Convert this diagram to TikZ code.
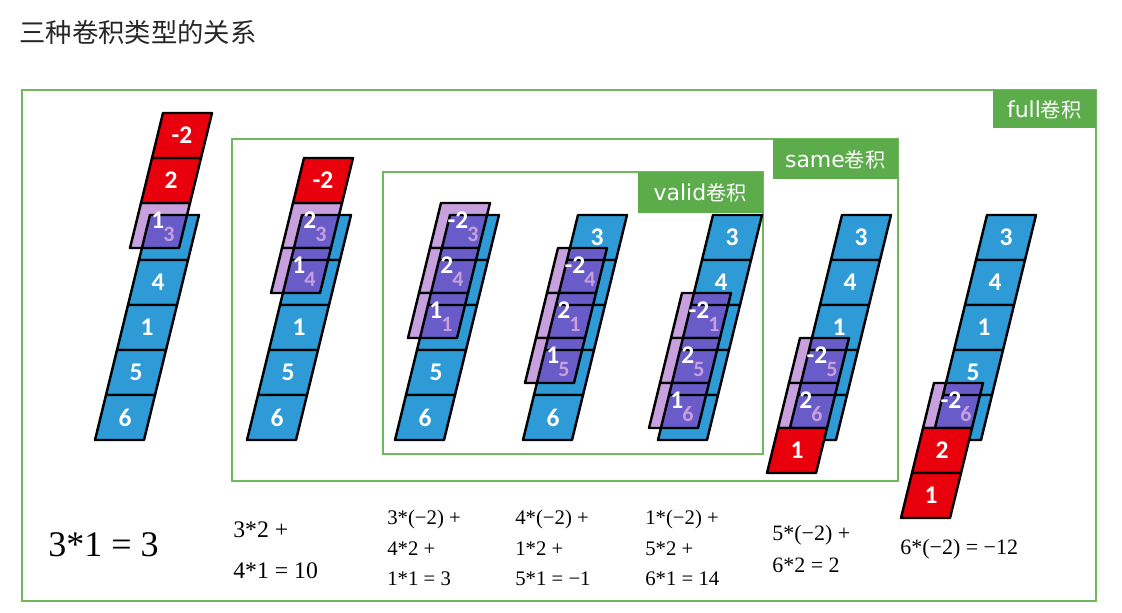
\documentclass[tikz,border=0pt]{standalone}
\usepackage{fontspec}
\setmainfont{Carlito}
\newfontfamily\cjk{Noto Sans CJK SC}
\newfontfamily\tabfont{DejaVu Sans}
\newfontfamily\formfont{Liberation Serif}
\usepackage{xcolor}
\usepackage{tikz}

\definecolor{cellblue}{RGB}{46,155,215}
\definecolor{cellred}{RGB}{232,0,12}
\definecolor{lav}{RGB}{200,160,222}
\definecolor{ovl}{RGB}{105,92,200}
\definecolor{boxgreen}{RGB}{112,184,92}
\definecolor{tabgreen}{RGB}{92,172,76}

% one slanted cell: name, lower left x, lower y, fill, number
\newcommand{\cell}[5]{%
  \filldraw[cellline, fill=#4] ({#2},{#3}) -- ++(49,0) -- ++(11,-45) -- ++(-49,0) -- cycle;
  \node[num] (#1) at ({#2+30},{#3-22.5}) {#5};}
% the five input cells of one column (numbers hidden by the kernel left empty)
\newcommand{\bluecol}[7]{%
  \cell{#1-a}{#2+44}{260}{cellblue}{#3}
  \cell{#1-b}{#2+33}{305}{cellblue}{#4}
  \cell{#1-c}{#2+22}{350}{cellblue}{#5}
  \cell{#1-d}{#2+11}{395}{cellblue}{#6}
  \cell{#1-e}{#2}{440}{cellblue}{#7}}
% outline of a column, drawn again through the kernel
\newcommand{\colgrid}[1]{%
  \draw[cellline] (#1,440) -- ++(49,0) -- ++(55,-225) -- ++(-49,0) -- cycle
    (#1+11,395) -- ++(49,0) (#1+22,350) -- ++(49,0)
    (#1+33,305) -- ++(49,0) (#1+44,260) -- ++(49,0);}
\newcommand{\sub}[1]{\kern-0.5pt\raisebox{-1.05ex}{\fontsize{12.5}{12.5}\selectfont\textcolor{lav}{#1}}}
% kernel cell over the input: name, column x, index, number, number below
\newcommand{\kcell}[5]{%
  \fill[lav] ({#2+11*(4-(#3))-9},{248+45*(#3)}) -- ++(49,0) -- ++(11,-45) -- ++(-49,0) -- cycle;
  \begin{scope}
    \clip (#2,440) -- ++(49,0) -- ++(55,-225) -- ++(-49,0) -- cycle;
    \fill[ovl] ({#2+11*(4-(#3))-9},{248+45*(#3)}) -- ++(49,0) -- ++(11,-45) -- ++(-49,0) -- cycle;
  \end{scope}
  \begin{scope}
    \clip ({#2+11*(4-(#3))-9},{248+45*(#3)}) -- ++(49,0) -- ++(11,-45) -- ++(-49,0) -- cycle;
    \colgrid{#2}
  \end{scope}
  \draw[cellline] ({#2+11*(4-(#3))-9},{248+45*(#3)}) -- ++(49,0) -- ++(11,-45) -- ++(-49,0) -- cycle;
  \node[num] (#1) at ({#2+11*(4-(#3))+24},{227+45*(#3)}) {#4\sub{#5}};}
% kernel cell outside the input
\newcommand{\rcell}[4]{\cell{#1}{#2+11*(4-(#3))-9}{248+45*(#3)}{cellred}{#4}}
\newcommand{\tablabel}[1]{{\tabfont\fontsize{12.5}{12.5}\selectfont #1}{\cjk\fontsize{11.5}{11.5}\selectfont 卷积}}

\begin{document}
\begin{tikzpicture}[x=0.02cm, y=-0.02cm,
  cellline/.style={draw=black, line width=1.4pt, line join=round},
  num/.style={text=white, inner sep=0pt, font=\bfseries\fontsize{14.5}{14.5}\selectfont},
  frame/.style={draw=boxgreen, line width=1.3pt},
  tab/.style={fill=tabgreen, text=white, anchor=north east, inner sep=0pt},
  formula/.style={anchor=west, inner sep=0pt, font=\formfont\fontsize{11.8}{13}\selectfont}]
\useasboundingbox (0,0) rectangle (1122,612);

\node[anchor=west, inner sep=0pt, text=black!85, font=\cjk\fontsize{15}{15}\selectfont] (title) at (19,32) {三种卷积类型的关系};

% frames
\draw[frame] (22,90) rectangle (1096,601);
\draw[frame] (232,139) rectangle (898,481);
\draw[frame] (383,172) rectangle (763,454);
\node[tab, minimum width=2.06cm, minimum height=0.76cm] (fulltab) at (1096,90) {\tablabel{full}};
\node[tab, minimum width=2.5cm, minimum height=0.8cm] (sametab) at (898,139) {\tablabel{same}};
\node[tab, minimum width=2.5cm, minimum height=0.82cm] (validtab) at (763,172) {\tablabel{valid}};

% column 1
\bluecol{a}{95}{}{4}{1}{5}{6}
\kcell{a-k1}{95}{0}{1}{3}
\rcell{a-k2}{95}{-1}{2}
\rcell{a-k3}{95}{-2}{-2}
% column 2
\bluecol{b}{247}{}{}{1}{5}{6}
\kcell{b-k2}{247}{0}{2}{3}
\kcell{b-k1}{247}{1}{1}{4}
\rcell{b-k3}{247}{-1}{-2}
% column 3
\bluecol{c}{395}{}{}{}{5}{6}
\kcell{c-k3}{395}{0}{-2}{3}
\kcell{c-k2}{395}{1}{2}{4}
\kcell{c-k1}{395}{2}{1}{1}
% column 4
\bluecol{d}{523}{3}{}{}{}{6}
\kcell{d-k3}{523}{1}{-2}{4}
\kcell{d-k2}{523}{2}{2}{1}
\kcell{d-k1}{523}{3}{1}{5}
% column 5
\bluecol{e}{658}{3}{4}{}{}{}
\kcell{e-k3}{658}{2}{-2}{1}
\kcell{e-k2}{658}{3}{2}{5}
\kcell{e-k1}{658}{4}{1}{6}
% column 6
\bluecol{f}{787}{3}{4}{1}{}{}
\kcell{f-k3}{787}{3}{-2}{5}
\kcell{f-k2}{787}{4}{2}{6}
\rcell{f-k1}{787}{5}{1}
% column 7
\bluecol{g}{932}{3}{4}{1}{5}{}
\kcell{g-k3}{932}{4}{-2}{6}
\rcell{g-k2}{932}{5}{2}
\rcell{g-k1}{932}{6}{1}

% sums
\node[formula, font=\formfont\fontsize{20.5}{20.5}\selectfont] (fa) at (48,545) {3*1 = 3};
\node[formula, font=\formfont\fontsize{13.5}{15}\selectfont] (fb1) at (233,530) {3*2 +};
\node[formula, font=\formfont\fontsize{13.5}{15}\selectfont] (fb2) at (233,571) {4*1 = 10};
\node[formula] (fc1) at (387,520) {3*(−2) +};
\node[formula] (fc2) at (387,549) {4*2 +};
\node[formula] (fc3) at (387,579) {1*1 = 3};
\node[formula] (fd1) at (515,520) {4*(−2) +};
\node[formula] (fd2) at (515,549) {1*2 +};
\node[formula] (fd3) at (515,579) {5*1 = −1};
\node[formula] (fe1) at (645,520) {1*(−2) +};
\node[formula] (fe2) at (645,549) {5*2 +};
\node[formula] (fe3) at (645,579) {6*1 = 14};
\node[formula, font=\formfont\fontsize{12.5}{14}\selectfont] (ff1) at (772,535) {5*(−2) +};
\node[formula, font=\formfont\fontsize{12.5}{14}\selectfont] (ff2) at (772,565) {6*2 = 2};
\node[formula, font=\formfont\fontsize{12.5}{14}\selectfont] (fg1) at (900,549) {6*(−2) = −12};
\end{tikzpicture}
\end{document}
